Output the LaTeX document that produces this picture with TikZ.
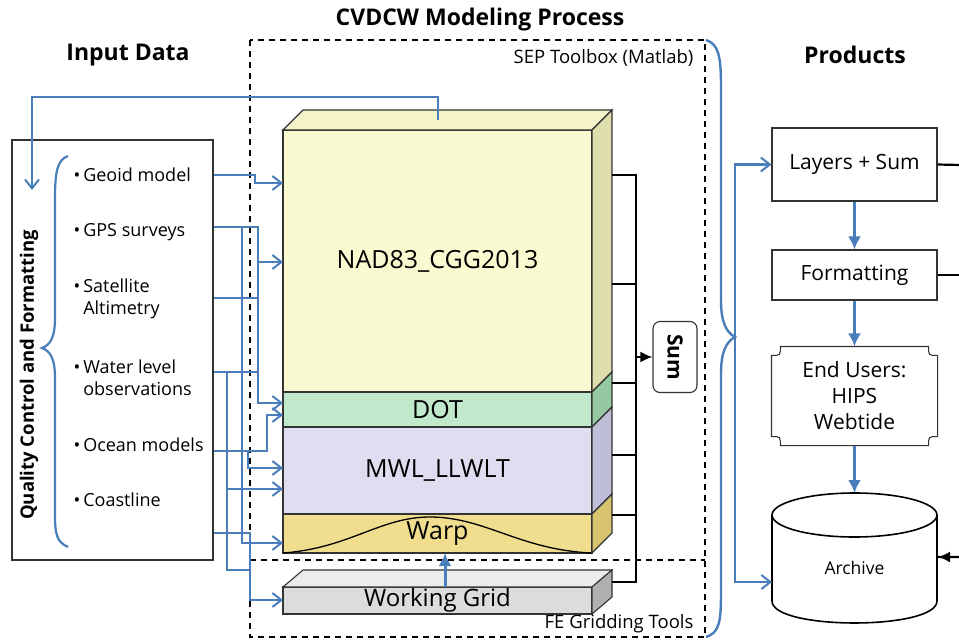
\documentclass[tikz,border=0pt]{standalone}
\usepackage{fontspec}
\setmainfont{Open Sans}
\usetikzlibrary{arrows.meta,calc}
\definecolor{wireblue}{RGB}{74,126,187}
\definecolor{nadfill}{RGB}{250,250,208}
\definecolor{nadtop}{RGB}{244,244,200}
\definecolor{nadside}{RGB}{222,222,172}
\definecolor{dotfill}{RGB}{192,232,202}
\definecolor{dotside}{RGB}{150,200,162}
\definecolor{mwlfill}{RGB}{222,222,240}
\definecolor{mwlside}{RGB}{190,190,216}
\definecolor{warpfill}{RGB}{240,222,142}
\definecolor{warpside}{RGB}{215,195,112}
\definecolor{gridfill}{RGB}{220,220,220}
\definecolor{gridtop}{RGB}{236,236,236}
\definecolor{gridside}{RGB}{176,176,176}
\tikzset{
  layer/.style={draw=black!80, line width=1.1pt, minimum width=309pt, inner sep=0pt, outer sep=0pt, font=\fontsize{25}{30}\selectfont},
  face/.style={draw=black!80, line width=1.1pt},
  wire/.style={wireblue, line width=2pt},
  feed/.style={wire, -{Straight Barb[length=9pt,width=14pt,line width=2pt]}},
  prodarrow/.style={wireblue, line width=3pt, -{Latex[length=13pt,width=13pt]}},
  sumline/.style={black, line width=2.2pt},
  prodbox/.style={draw=black!80, line width=1.1pt, minimum width=165pt, align=center, font=\fontsize{21}{26}\selectfont},
  item/.style={anchor=west, align=left, font=\fontsize{18}{22}\selectfont},
  heading/.style={font=\fontsize{23}{28}\selectfont\bfseries},
  dashbox/.style={line width=1.5pt, dash pattern=on 6pt off 5pt},
  toolname/.style={anchor=east, font=\fontsize{18.5}{22}\selectfont},
}

\begin{document}
\begin{tikzpicture}[x=1pt,y=-1pt]
    \useasboundingbox (0,0) rectangle (959,643);

    % Headings
    \node[heading] (hin) at (128,55) {Input Data};
    \node[heading] (hproc) at (480,20) {CVDCW Modeling Process};
    \node[heading] (hprod) at (855,55) {Products};

    % Tool boxes
    \draw[dashbox] (250,40) rectangle (705,637);
    \draw[dashbox] (250,560) -- (705,560);
    \node[toolname] (sep) at (697,58) {SEP Toolbox (Matlab)};
    \node[toolname] (fe) at (697,624) {FE Gridding Tools};

    % Input data
    \node[draw=black!80, line width=1.1pt, minimum width=201pt, minimum height=420pt] (qc) at (112.5,350) {};
    \node[rotate=90, font=\fontsize{18.5}{22}\selectfont\bfseries] (qctext) at (29,375) {Quality Control and Formatting};
    \draw[wireblue, line width=2.2pt] (68,156) .. controls (57,160) and (55,172) .. (55,200) -- (55,318)
        .. controls (55,338) and (50,345) .. (42,348) .. controls (50,351) and (55,358) .. (55,378)
        -- (55,515) .. controls (55,535) and (57,542) .. (68,547);
    \node[item] (geo) at (70,175) {•\,Geoid model};
    \node[item] (gps) at (70,232) {•\,GPS surveys};
    \node[item] (sat) at (70,299) {•\,Satellite\\\hphantom{•\,}Altimetry};
    \node[item] (wat) at (70,378) {•\,Water level\\\hphantom{•\,}observations};
    \node[item] (oce) at (70,445) {•\,Ocean models};
    \node[item] (coa) at (70,500) {•\,Coastline};

    % Layers
    \node[layer, fill=nadfill, minimum height=262pt] (nad) at (437.5,261) {NAD83\_CGG2013};
    \node[layer, fill=dotfill, minimum height=35pt] (dot) at (437.5,409.5) {DOT};
    \node[layer, fill=mwlfill, minimum height=87pt] (mwl) at (437.5,470.5) {MWL\_LLWLT};
    \node[layer, fill=warpfill, minimum height=39pt] (warp) at (437.5,533.5) {Warp};
    \draw[line width=1.3pt] (warp.south west) .. controls (350,548) and (380,517) .. (430,517)
        .. controls (485,517) and (520,550) .. (warp.south east);
    \draw[face, fill=nadtop] (nad.north west) -- ++(20,-20) -- ($(nad.north east)+(20,-20)$) -- (nad.north east) -- cycle;
    \foreach \n/\c in {nad/nadside, dot/dotside, mwl/mwlside, warp/warpside}
        \draw[face, fill=\c] (\n.north east) -- ++(20,-20) -- ($(\n.south east)+(20,-20)$) -- (\n.south east) -- cycle;

    % Working grid
    \node[layer, fill=gridfill, minimum height=27pt, font=\fontsize{24}{28}\selectfont] (grid) at (437.5,600.5) {Working Grid};
    \draw[face, fill=gridtop] (grid.north west) -- ++(20,-17) -- ($(grid.north east)+(20,-17)$) -- (grid.north east) -- cycle;
    \draw[face, fill=gridside] (grid.north east) -- ++(20,-17) -- ($(grid.south east)+(20,-17)$) -- (grid.south east) -- cycle;
    \draw[prodarrow] (grid.north -| 445,0) -- (warp.south -| 445,0);

    % Sum
    \node[draw=black!80, line width=1.1pt, rounded corners=7pt, minimum width=44pt, minimum height=71pt, inner sep=0pt] (sum) at (675,357) {\rotatebox{-90}{\fontsize{21}{25}\selectfont\bfseries Sum}};
    \coordinate (bus) at (636,357);
    \foreach \y [count=\i] in {175,284,383,455,515,582}
        \coordinate (s\i) at (612,\y);
    \foreach \i in {1,...,6}
        \draw[sumline] (s\i) -| (bus);
    \draw[sumline, -{Latex[length=12pt,width=11pt]}] (bus) -- (sum.west);

    % Feeds into the layers
    \foreach \n/\y in {Geo/175, Gps/227, Sat/298, Wat/372, Oce/451, Coa/533}
        \coordinate (s\n) at (qc.east |- 0,\y);
    \coordinate (tNadA) at (nad.west |- 0,183);
    \coordinate (tNadB) at (nad.west |- 0,262);
    \coordinate (tDotA) at (dot.west |- 0,403);
    \coordinate (tDotB) at (dot.west |- 0,415);
    \coordinate (tMwlA) at (mwl.west |- 0,468);
    \coordinate (tMwlB) at (mwl.west |- 0,489);
    \coordinate (tWarp) at (warp.west |- 0,543);
    \coordinate (tGrid) at (grid.west |- 0,600);
    \draw[feed] (sGeo) -| (255,183) -- (tNadA);
    \draw[feed] (sGps) -| (258,403) -- (tDotA);
    \draw[feed] (258,262) -- (tNadB);
    \draw[wire] (sSat) -- (sSat -| 258,0);
    \draw[feed] (242,227) |- (tWarp);
    \draw[wire] (sWat) -- (sWat -| 258,0);
    \draw[feed] (227,372) |- (tMwlB);
    \draw[wire] (227,489) |- (250,570);
    \draw[feed] (sOce) -| (267,415) -- (tDotB);
    \draw[feed] (248,451) |- (tMwlA);
    \draw[feed] (sCoa) -| (250,600) -- (tGrid);

    % Loop back to quality control
    \coordinate (nadTop) at (438,120);
    \coordinate (qcIn) at (32,190);
    \draw[feed, line width=2.6pt] (nadTop) -- (438,97) -| (qcIn);

    % Products
    \draw[wireblue, line width=2.4pt] (706,40) .. controls (718,44) and (721,55) .. (721,85) -- (721,300)
        .. controls (721,322) and (726,332) .. (735,337) .. controls (726,342) and (721,352) .. (721,374)
        -- (721,595) .. controls (721,625) and (718,633) .. (706,637);
    \coordinate (brTip) at (735,337);
    \node[prodbox, minimum height=73pt] (layers) at (854.5,164.5) {Layers + Sum};
    \node[prodbox, minimum height=50pt] (fmt) at (854.5,275) {Formatting};
    \node[prodbox, draw=none, minimum height=98pt] (users) at (854.5,396) {End Users:\\HIPS\\Webtide};
    \draw[line width=1.1pt, black!80] ($(users.north west)+(9,0)$) -- ($(users.north east)+(-9,0)$)
        .. controls ($(users.north east)+(-9,9)$) .. ($(users.north east)+(0,9)$)
        -- ($(users.south east)+(0,-9)$)
        .. controls ($(users.south east)+(-9,-9)$) .. ($(users.south east)+(-9,0)$)
        -- ($(users.south west)+(9,0)$)
        .. controls ($(users.south west)+(9,-9)$) .. ($(users.south west)+(0,-9)$)
        -- ($(users.north west)+(0,9)$)
        .. controls ($(users.north west)+(9,9)$) .. cycle;
    \draw[line width=1.6pt] (772,515) -- (772,601) .. controls (772,630.3) and (937,630.3) .. (937,601) -- (937,515);
    \draw[line width=1.6pt] (854.5,515) ellipse [x radius=82.5pt, y radius=22pt];
    \node[font=\fontsize{17.5}{21}\selectfont] (arch) at (854.5,568) {Archive};
    \coordinate (archTop) at (854.5,493);
    \coordinate (archL) at (772,582);
    \coordinate (archR) at (938,557);
    \draw[feed, line width=2.6pt] (brTip) |- (layers.west);
    \draw[feed, line width=2.6pt] (brTip) |- (archL);
    \draw[prodarrow] (layers.south) -- (fmt.north);
    \draw[prodarrow] (fmt.south) -- (users.north);
    \draw[prodarrow] (users.south) -- (archTop);

    % Outgoing lines on the right
    \coordinate (rTop) at (961,165);
    \draw[sumline] (layers.east) -- (rTop) |- (archR);
    \draw[sumline] (fmt.east) -- (fmt.east -| rTop);
    \draw[sumline, -{Latex[length=12pt,width=11pt]}] (archR -| rTop) -- (archR);
\end{tikzpicture}
\end{document}
